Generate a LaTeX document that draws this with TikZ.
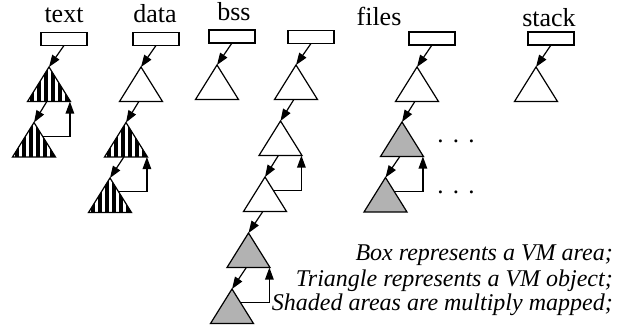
\documentclass[tikz,border=0pt]{standalone}
\usepackage{fontspec}
\setmainfont{Liberation Serif}
\usetikzlibrary{arrows.meta,shapes.geometric,calc}

\begin{document}
\begin{tikzpicture}[x=1pt,y=-1pt,
  areabox/.style={draw,line width=1.2pt,minimum width=46pt,minimum height=13pt,inner sep=0pt,outer sep=0pt},
  vmobj/.style={draw,line width=1.2pt,isosceles triangle,shape border rotate=90,isosceles triangle stretches,
    minimum width=43pt,minimum height=34.5pt,inner sep=0pt,outer sep=0pt,anchor=apex},
  plain/.style={fill=white},
  shaded/.style={fill=black!30},
  striped/.style={fill=white,path picture={
      \foreach \s in {2,9,...,44}
        \fill[black] ([xshift=\s pt]path picture bounding box.south west) rectangle ++(4pt,40pt);}},
  arr/.style={-{Triangle[length=12pt,width=8.5pt]},line width=1.2pt},
  lbl/.style={font=\fontsize{26}{28}\selectfont,anchor=base,inner sep=0pt},
  note/.style={font=\fontsize{24}{26}\selectfont\itshape,anchor=base east,inner sep=0pt},
  dotrow/.style={font=\fontsize{25}{27}\selectfont,inner sep=0pt}]
  \useasboundingbox (0,0) rectangle (619,327);
  % segment names
  \node[lbl] (ltext)  at (64,22.5)  {text};
  \node[lbl] (ldata)  at (155,22.5) {data};
  \node[lbl] (lbss)   at (234,20.7) {bss};
  \node[lbl] (lfiles) at (379,25)   {files};
  \node[lbl] (lstack) at (549,26)   {stack};
  % VM areas
  \node[areabox] (atext)  at (64,39)    {};
  \node[areabox] (adata)  at (156,39)   {};
  \node[areabox] (abss)   at (232,36.5) {};
  \node[areabox] (aanon)  at (311,37)   {};
  \node[areabox] (afiles) at (432,38.5) {};
  \node[areabox] (astack) at (551,38.5) {};
  % VM objects
  \node[vmobj,striped] (t11) at (49,67) {};
  \node[vmobj,striped] (t12) at (34,122.5) {};
  \node[vmobj,plain]   (t21) at (141,67) {};
  \node[vmobj,striped] (t22) at (126,122.5) {};
  \node[vmobj,striped] (t23) at (110,178) {};
  \node[vmobj,plain]   (t31) at (217,65) {};
  \node[vmobj,plain]   (t41) at (296,65) {};
  \node[vmobj,plain]   (t42) at (280.5,121) {};
  \node[vmobj,plain]   (t43) at (265,177) {};
  \node[vmobj,shaded]  (t44) at (248.5,233) {};
  \node[vmobj,shaded]  (t45) at (232,289) {};
  \node[vmobj,plain]   (t51) at (417,67) {};
  \node[vmobj,shaded]  (t52) at (402,122) {};
  \node[vmobj,shaded]  (t53) at (385.5,177.5) {};
  \node[vmobj,plain]   (t61) at (536,67) {};
  % area -> object
  \draw[arr] (atext.south)  -- (t11.apex);
  \draw[arr] (adata.south)  -- (t21.apex);
  \draw[arr] (abss.south)   -- (t31.apex);
  \draw[arr] (aanon.south)  -- (t41.apex);
  \draw[arr] (afiles.south) -- (t51.apex);
  \draw[arr] (astack.south) -- (t61.apex);
  % object chains
  \foreach \a/\b in {t11/t12,t21/t22,t22/t23,t41/t42,t42/t43,t43/t44,t44/t45,t51/t52,t52/t53}
    \draw[arr] ($(\a.left corner)!0.45!(\a.right corner)$) -- (\b.apex);
  % back links
  \foreach \a/\b in {t12/t11,t23/t22,t43/t42,t45/t44,t53/t52}
    \draw[arr] ($(\a.apex)!0.4!(\a.right corner)$) -| ([xshift=-0.6pt]\b.right corner);
  % more objects
  \node[dotrow] (dotsA) at (456,141.7) {.\hspace{9.3pt}.\hspace{9.3pt}.};
  \node[dotrow] (dotsB) at (456,192.7) {.\hspace{9.3pt}.\hspace{9.3pt}.};
  % legend
  \node[note] (n1) at (613,260.7) {Box represents a VM area;};
  \node[note] (n2) at (613,286.7) {Triangle represents a VM object;};
  \node[note] (n3) at (613,310.7) {Shaded areas are multiply mapped;};
\end{tikzpicture}
\end{document}
